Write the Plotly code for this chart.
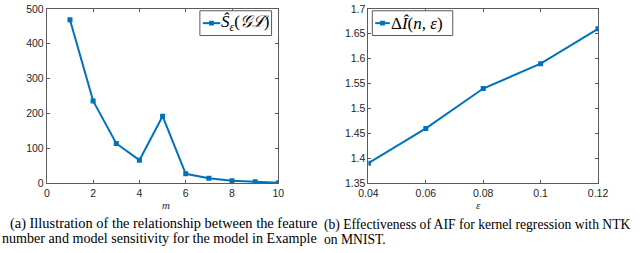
import plotly.graph_objects as go

# ---- data ----
m_vals = [1, 2, 3, 4, 5, 6, 7, 8, 9, 10]
s_vals = [469, 236, 114, 66, 192, 27, 14, 7, 4, 1]
eps_vals = [0.04, 0.06, 0.08, 0.1, 0.12]
di_vals = [1.39, 1.46, 1.54, 1.59, 1.66]

x1_ticks = [0, 2, 4, 6, 8, 10]
y1_ticks = [0, 100, 200, 300, 400, 500]
x2_ticks = [0.04, 0.06, 0.08, 0.1, 0.12]
x2_labels = ["0.04", "0.06", "0.08", "0.1", "0.12"]
y2_ticks = [1.35, 1.4, 1.45, 1.5, 1.55, 1.6, 1.65, 1.7]
y2_labels = ["1.35", "1.4", "1.45", "1.5", "1.55", "1.6", "1.65", "1.7"]

legend1_name = "<i>Ŝ</i><sub><i>ε</i></sub>(<i>𝒢ℒ</i>)"
legend2_name = "Δ<i>Î</i>(<i>n</i>, <i>ε</i>)"
caption_a1 = "(a) Illustration of the relationship between the feature"
caption_a2 = "number and model sensitivity for the model in Example"
caption_b1 = "(b) Effectiveness of AIF for kernel regression with NTK"
caption_b2 = "on MNIST."

W, H = 640, 253
BLUE = "#0072BD"
AX = "#262626"
LINE = "#5a5a5a"

def px(x):
    return x / W

def py(y):
    return 1 - y / H

fig = go.Figure()
fig.add_trace(go.Scatter(x=m_vals, y=s_vals, mode="lines+markers", name=legend1_name,
                         line=dict(color=BLUE, width=2), marker=dict(symbol="square", size=5, color=BLUE),
                         xaxis="x", yaxis="y"))
fig.add_trace(go.Scatter(x=eps_vals, y=di_vals, mode="lines+markers", name=legend2_name,
                         line=dict(color=BLUE, width=2), marker=dict(symbol="square", size=5, color=BLUE),
                         xaxis="x2", yaxis="y2"))

axis_common = dict(showline=True, linecolor=LINE, linewidth=1, mirror="allticks", ticks="inside",
                   ticklen=3, tickcolor=LINE, showgrid=False, zeroline=False,
                   ticklabeloverflow="allow",
                   tickfont=dict(family="Liberation Sans, Arial", size=10.5, color=AX))

fig.update_layout(
    width=W, height=H, margin=dict(l=0, r=0, t=0, b=0),
    paper_bgcolor="white", plot_bgcolor="white", showlegend=False,
    xaxis=dict(domain=[px(38), px(277)], range=[0, 10], tickvals=x1_ticks, anchor="y", **axis_common),
    yaxis=dict(domain=[py(186), py(3)], range=[0, 500], tickvals=y1_ticks, anchor="x", **axis_common),
    xaxis2=dict(domain=[px(370), px(607)], range=[0.04, 0.12], tickvals=x2_ticks, ticktext=x2_labels,
                anchor="y2", **axis_common),
    yaxis2=dict(domain=[py(186), py(3)], range=[1.35, 1.7], tickvals=y2_ticks, ticktext=y2_labels,
                anchor="x2", **axis_common),
)

# ---- manual legends (boxes, sample line, marker, text) ----
def add_legend(x0, x1, y0, y1, lx0, lx1, text, tx):
    yc = (y0 + y1) / 2
    fig.add_shape(type="rect", xref="paper", yref="paper", x0=px(x0), x1=px(x1), y0=py(y1), y1=py(y0),
                  line=dict(color=LINE, width=1), fillcolor="white", layer="above")
    fig.add_shape(type="line", xref="paper", yref="paper", x0=px(lx0), x1=px(lx1), y0=py(yc), y1=py(yc),
                  line=dict(color=BLUE, width=2), layer="above")
    mx = (lx0 + lx1) / 2
    fig.add_shape(type="rect", xref="paper", yref="paper", x0=px(mx - 2.5), x1=px(mx + 2.5),
                  y0=py(yc + 2.5), y1=py(yc - 2.5), line=dict(color=BLUE, width=0), fillcolor=BLUE,
                  layer="above")
    fig.add_annotation(text=text, x=px(tx), y=py(yc), xref="paper", yref="paper", xanchor="left",
                       yanchor="middle", showarrow=False,
                       font=dict(family="Liberation Serif", size=17, color="black"))

add_legend(196, 270, 5, 31, 199, 217, legend1_name, 216)
add_legend(374, 457, 5, 31, 377, 392, legend2_name, 391)

lab_font = dict(family="Liberation Serif", size=11, color=AX)
fig.add_annotation(text="<i>m</i>", x=px(155), y=py(209), xref="paper", yref="paper", showarrow=False,
                   yanchor="middle", font=lab_font)
fig.add_annotation(text="<i>ε</i>", x=px(488), y=py(209), xref="paper", yref="paper", showarrow=False,
                   yanchor="middle", font=lab_font)

fa1 = dict(family="Liberation Serif", size=14.4, color="black")
fa2 = dict(family="Liberation Serif", size=14.1, color="black")
fb = dict(family="Liberation Serif", size=13.6, color="black")
fig.add_annotation(text=caption_a1, x=px(319), y=py(228), xref="paper", yref="paper", xanchor="right",
                   yanchor="middle", showarrow=False, font=fa1)
fig.add_annotation(text=caption_a2, x=px(319), y=py(244), xref="paper", yref="paper", xanchor="right",
                   yanchor="middle", showarrow=False, font=fa2)
fig.add_annotation(text=caption_b1, x=px(322), y=py(230), xref="paper", yref="paper", xanchor="left",
                   yanchor="middle", showarrow=False, font=fb)
fig.add_annotation(text=caption_b2, x=px(322), y=py(245), xref="paper", yref="paper", xanchor="left",
                   yanchor="middle", showarrow=False, font=fb)

fig.write_html("out.html", config={"displayModeBar": False},
               post_script="document.body.style.margin='0';document.body.style.padding='0';")
